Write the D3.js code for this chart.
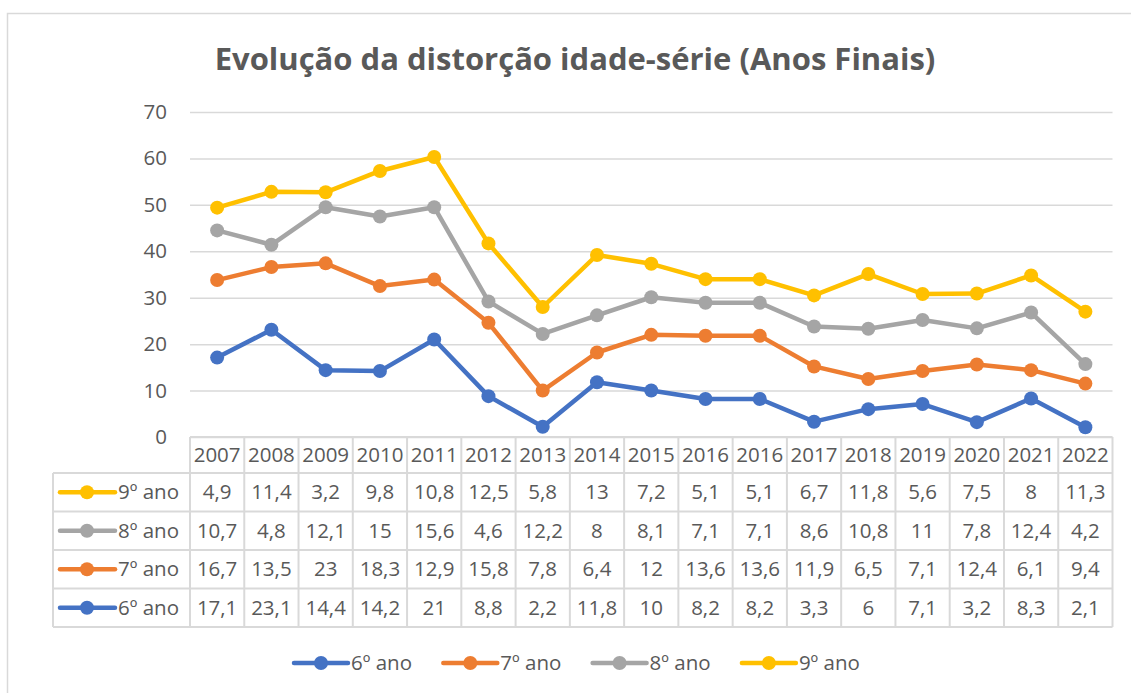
<!DOCTYPE html>
<html>
<head>
<meta charset="utf-8">
<script src="https://cdn.jsdelivr.net/npm/d3@7"></script>
<style>
  body { margin: 0; background: #fff; }
  text { font-family: "Open Sans", sans-serif; fill: #595959; }
</style>
</head>
<body>
<div id="chart"></div>
<script>
// category labels (2016 appears twice in the source sheet)
const years = ["2007", "2008", "2009", "2010", "2011", "2012", "2013", "2014", "2015", "2016", "2016", "2017", "2018", "2019", "2020", "2021", "2022"];
const ano6 = [17.1, 23.1, 14.4, 14.2, 21, 8.8, 2.2, 11.8, 10, 8.2, 8.2, 3.3, 6, 7.1, 3.2, 8.3, 2.1];
const ano7 = [16.7, 13.5, 23, 18.3, 12.9, 15.8, 7.8, 6.4, 12, 13.6, 13.6, 11.9, 6.5, 7.1, 12.4, 6.1, 9.4];
const ano8 = [10.7, 4.8, 12.1, 15, 15.6, 4.6, 12.2, 8, 8.1, 7.1, 7.1, 8.6, 10.8, 11, 7.8, 12.4, 4.2];
const ano9 = [4.9, 11.4, 3.2, 9.8, 10.8, 12.5, 5.8, 13, 7.2, 5.1, 5.1, 6.7, 11.8, 5.6, 7.5, 8, 11.3];
const seriesNames = ["6º ano", "7º ano", "8º ano", "9º ano"];
const yTicks = [0, 10, 20, 30, 40, 50, 60, 70];

function main() {
    const width = 1131, height = 693;
    const colors = ["#4472C4", "#ED7D31", "#A5A5A5", "#FFC000"];
    const values = [ano6, ano7, ano8, ano9];

    const svg = d3.select("#chart").append("svg")
        .attr("width", width)
        .attr("height", height)

    // chart area border
    svg.append("rect")
        .attr("x", 7.5).attr("y", 13.5)
        .attr("width", 1140).attr("height", 700)
        .attr("fill", "none").attr("stroke", "#d9d9d9").attr("stroke-width", 1.5)

    svg.append("text")
        .attr("x", 575).attr("y", 70)
        .attr("text-anchor", "middle")
        .style("font-size", "31px").style("font-weight", "bold")
        .text("Evolução da distorção idade-série (Anos Finais)")

    const x = d3.scaleBand().domain(d3.range(years.length)).range([190, 1112.5])
    const y = d3.scaleLinear().domain([0, 70]).range([437, 112])

    // gridlines + y labels
    const yAxis = svg.append("g")
        .attr("transform", "translate(190,0)")
        .call(d3.axisLeft(y).tickValues(yTicks).tickSize(-(1112.5 - 190)).tickPadding(23))
    yAxis.select(".domain").remove()
    yAxis.selectAll("line").attr("stroke", "#d9d9d9").attr("stroke-width", 1.5)
    yAxis.selectAll("text").style("font-size", "20.5px").attr("fill", "#595959")
        .style("font-family", "'Open Sans', sans-serif")

    // stacked values
    const rows = years.map((yr, i) => {
        const r = { i: i };
        seriesNames.forEach((n, k) => r[n] = values[k][i]);
        return r;
    })
    const stacked = d3.stack().keys(seriesNames)(rows)

    const line = d3.line()
        .x(d => x(d.data.i) + x.bandwidth() / 2)
        .y(d => y(d[1]))

    stacked.forEach((s, k) => {
        const g = svg.append("g")
        g.append("path")
            .datum(s)
            .attr("d", line)
            .attr("fill", "none")
            .attr("stroke", colors[k])
            .attr("stroke-width", 4.5)
            .attr("stroke-linejoin", "round")
        g.selectAll("circle")
            .data(s)
            .join("circle")
            .attr("cx", d => x(d.data.i) + x.bandwidth() / 2)
            .attr("cy", d => y(d[1]))
            .attr("r", 7)
            .attr("fill", colors[k])
    })

    // data table
    const headTop = 437, headBottom = 473, rowH = 38.5;
    const tableRows = [3, 2, 1, 0]; // 9º first
    const tableBottom = headBottom + rowH * tableRows.length;
    const tbl = svg.append("g")

    // horizontal lines
    tbl.append("line").attr("x1", 190).attr("x2", 1112.5).attr("y1", headTop).attr("y2", headTop)
    d3.range(tableRows.length + 1).forEach(r => {
        tbl.append("line").attr("x1", 53).attr("x2", 1112.5)
            .attr("y1", headBottom + r * rowH).attr("y2", headBottom + r * rowH)
    })
    // vertical lines
    d3.range(years.length + 1).forEach(i => {
        const xx = i < years.length ? x(i) : x.range()[1];
        tbl.append("line").attr("x1", xx).attr("x2", xx).attr("y1", headTop).attr("y2", tableBottom)
    })
    tbl.append("line").attr("x1", 53).attr("x2", 53).attr("y1", headBottom).attr("y2", tableBottom)
    tbl.selectAll("line").attr("stroke", "#d9d9d9").attr("stroke-width", 2)

    tbl.selectAll("text.year")
        .data(years)
        .join("text")
        .attr("class", "year")
        .attr("x", (d, i) => x(i) + x.bandwidth() / 2)
        .attr("y", (headTop + headBottom) / 2)
        .attr("dy", "0.35em")
        .attr("text-anchor", "middle")
        .style("font-size", "20.5px")
        .text(d => d)

    tableRows.forEach((k, r) => {
        const cy = headBottom + r * rowH + rowH / 2;
        tbl.append("line").attr("x1", 60).attr("x2", 115).attr("y1", cy).attr("y2", cy)
            .attr("stroke", colors[k]).attr("stroke-width", 4.5).attr("stroke-linecap", "round")
        tbl.append("circle").attr("cx", 87).attr("cy", cy).attr("r", 7).attr("fill", colors[k])
        tbl.append("text").attr("x", 118).attr("y", cy).attr("dy", "0.35em")
            .style("font-size", "20.5px").text(seriesNames[k])
        tbl.selectAll("text.v" + k)
            .data(values[k])
            .join("text")
            .attr("x", (d, i) => x(i) + x.bandwidth() / 2)
            .attr("y", cy)
            .attr("dy", "0.35em")
            .attr("text-anchor", "middle")
            .style("font-size", "20.5px")
            .text(d => String(d).replace(".", ","))
    })

    // legend
    const legend = svg.append("g").attr("transform", "translate(294,663)")
    seriesNames.forEach((n, k) => {
        const lg = legend.append("g").attr("transform", `translate(${k * 149.3},0)`)
        lg.append("line").attr("x1", 0).attr("x2", 54).attr("y1", 0).attr("y2", 0)
            .attr("stroke", colors[k]).attr("stroke-width", 4.5).attr("stroke-linecap", "round")
        lg.append("circle").attr("cx", 27).attr("r", 7).attr("fill", colors[k])
        lg.append("text").attr("x", 57).attr("dy", "0.35em")
            .style("font-size", "20.5px").text(n)
    })
}
main();
</script>
</body>
</html>
